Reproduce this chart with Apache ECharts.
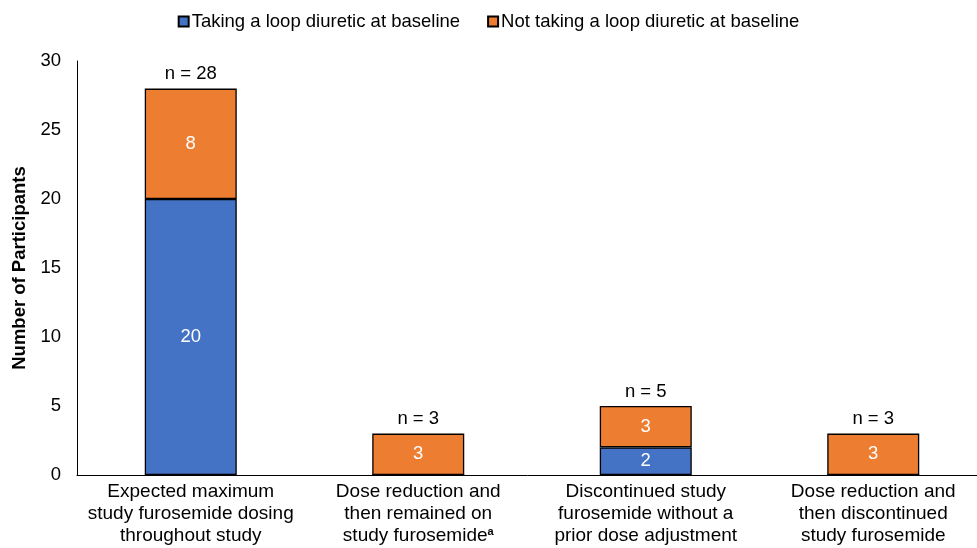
<!DOCTYPE html>
<html><head><meta charset="utf-8">
<script src="https://cdn.jsdelivr.net/npm/echarts@6/dist/echarts.min.js"></script>
<style>html,body{margin:0;padding:0;background:#fff}#c{width:977px;height:548px}</style>
</head><body><div id="c"></div>
<script>
const categories = [
  "Expected maximum\nstudy furosemide dosing\nthroughout study",
  "Dose reduction and\nthen remained on\nstudy furosemide{sup|a}",
  "Discontinued study\nfurosemide without a\nprior dose adjustment",
  "Dose reduction and\nthen discontinued\nstudy furosemide"
];
const takingLoop = [20, 0, 2, 0];
const notTakingLoop = [8, 3, 3, 3];
const totals = [28, 3, 5, 3];
const yTicks = [0, 5, 10, 15, 20, 25, 30];

const FONT = "Arial, 'Liberation Sans', sans-serif";
const FS = 18.5;
const chart = echarts.init(document.getElementById('c'), null, {renderer: 'canvas'});
chart.setOption({
  animation: false,
  textStyle: {fontFamily: FONT},
  legend: {
    data: ["Taking a loop diuretic at baseline", "Not taking a loop diuretic at baseline"],
    top: 7, left: 'center',
    itemWidth: 10, itemHeight: 10, itemGap: 27,
    icon: 'rect',
    textStyle: {fontSize: FS, color: '#000', fontFamily: FONT, padding: [0,0,0,-2]}
  },
  grid: {left: 77, right: -10, top: 61, bottom: 73, containLabel: false, outerBoundsMode: 'none'},
  xAxis: {
    type: 'category', data: categories,
    axisLine: {lineStyle: {color: '#000', width: 1}},
    axisTick: {show: false},
    axisLabel: {
      interval: 0, color: '#000', fontSize: 19, lineHeight: 22, margin: 6, fontFamily: FONT,
      rich: {sup: {fontSize: 11, fontWeight: 'bold', color: '#000', padding: [0,0,8,0], fontFamily: FONT}}
    }
  },
  yAxis: {
    type: 'value', min: yTicks[0], max: yTicks[yTicks.length-1], interval: 5,
    name: 'Number of Participants', nameLocation: 'middle', nameGap: 48,
    nameTextStyle: {fontSize: FS, fontWeight: 'bold', color: '#000', fontFamily: FONT},
    axisLine: {show: true, lineStyle: {color: '#000', width: 1}},
    axisTick: {show: false},
    splitLine: {show: false},
    axisLabel: {color: '#000', fontSize: FS, margin: 16, fontFamily: FONT}
  },
  series: [
    {
      name: "Taking a loop diuretic at baseline", type: 'bar', stack: 'a', barWidth: 92,
      data: takingLoop,
      itemStyle: {color: '#4472C4', borderColor: '#000', borderWidth: 1.3},
      label: {show: true, position: 'inside', color: '#fff', fontSize: FS, fontFamily: FONT,
        formatter: p => p.value ? String(p.value) : ''}
    },
    {
      name: "Not taking a loop diuretic at baseline", type: 'bar', stack: 'a', barWidth: 92,
      data: notTakingLoop,
      itemStyle: {color: '#ED7D31', borderColor: '#000', borderWidth: 1.3},
      label: {show: true, position: 'inside', color: '#fff', fontSize: FS, fontFamily: FONT,
        formatter: p => p.value ? String(p.value) : ''}
    },
    {
      name: 'total', type: 'bar', stack: 'a', barWidth: 92,
      data: totals.map(() => 0),
      itemStyle: {color: 'transparent', borderWidth: 0},
      label: {show: true, position: 'top', distance: 5, color: '#000', fontSize: FS, fontFamily: FONT,
        formatter: p => 'n = ' + totals[p.dataIndex]}
    }
  ]
});
</script></body></html>
